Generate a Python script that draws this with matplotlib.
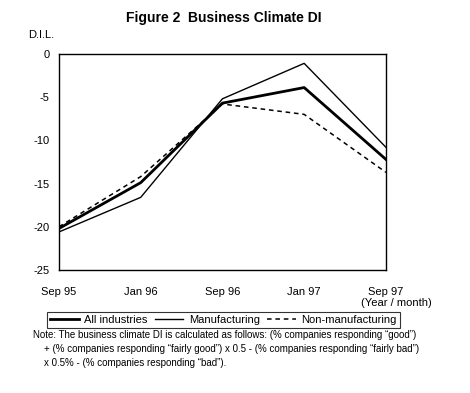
import matplotlib.pyplot as plt

plt.rcParams['font.family'] = ['Liberation Sans', 'DejaVu Sans']

# Datos
meses = ["Sep 95", "Jan 96", "Sep 96", "Jan 97", "Sep 97"]
todas = [-20.2, -14.9, -5.7, -3.9, -12.2]
manufactura = [-20.6, -16.6, -5.2, -1.1, -10.8]
no_manufactura = [-20.0, -14.2, -5.8, -7.0, -13.7]
yticks = [0, -5, -10, -15, -20, -25]

fig = plt.figure(figsize=(4.70, 3.93), dpi=100)
ax = fig.add_axes([0.1255, 0.313, 0.6955, 0.55])

x = list(range(len(meses)))
ax.plot(x, todas, color='black', lw=2.0, label='All industries')
ax.plot(x, manufactura, color='black', lw=1.0, label='Manufacturing')
ax.plot(x, no_manufactura, color='black', lw=1.1, ls=(0, (3, 2.5)), label='Non-manufacturing')

ax.set_xlim(0, len(meses) - 1)
ax.set_ylim(-25, 0)
ax.set_yticks(yticks)
ax.set_yticklabels([str(v) for v in yticks], fontsize=8)
ax.set_xticks(x)
ax.set_xticklabels(meses, fontsize=8)
ax.tick_params(length=0, pad=7)
ax.tick_params(axis='x', pad=12)
for s in ax.spines.values():
    s.set_linewidth(1.0)

fig.text(0.475, 0.955, "Figure 2  Business Climate DI", ha='center', va='center',
         fontsize=10, fontweight='bold')
fig.text(0.06, 0.91, "D.I.L.", ha='left', va='center', fontsize=8)
fig.text(0.843, 0.228, "(Year / month)", ha='center', va='center', fontsize=8)

leg = fig.legend(loc='center', bbox_to_anchor=(0.475, 0.186), ncol=3, fontsize=8,
                 frameon=True, fancybox=False, edgecolor='black', handlelength=2.6,
                 columnspacing=0.6, handletextpad=0.5, borderpad=0.3)
leg.get_frame().set_linewidth(0.8)

nota = ("Note: The business climate DI is calculated as follows: (% companies responding \u201cgood\u201d)\n"
        "    + (% companies responding \u201cfairly good\u201d) x 0.5 - (% companies responding \u201cfairly bad\u201d)\n"
        "    x 0.5% - (% companies responding \u201cbad\u201d).")
fig.text(0.07, 0.16, nota, ha='left', va='top', fontsize=7, linespacing=1.5)

plt.savefig('out.png', dpi=100)
